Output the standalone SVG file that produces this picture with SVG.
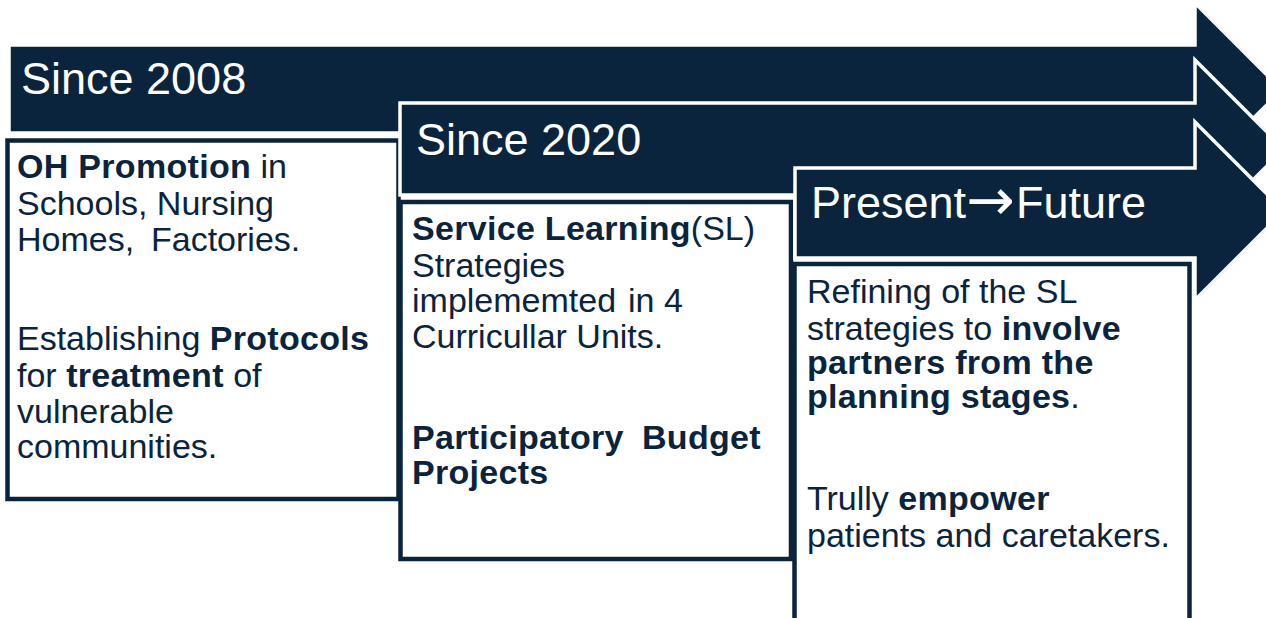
<svg xmlns="http://www.w3.org/2000/svg" width="1266" height="618" viewBox="0 0 1266 618">
<style>
.arrow{fill:#0a243d;stroke:#ffffff;stroke-width:3.5;stroke-linejoin:miter}
.box{fill:#ffffff;stroke:#0a243d;stroke-width:4.5}
.hdr{font-family:"Liberation Sans",Arial,sans-serif;font-size:45px;fill:#ffffff}
.sym{font-family:"DejaVu Sans",sans-serif;font-size:58px}
.body{font-family:"Liberation Sans",Arial,sans-serif;font-size:34px;fill:#0a243d}
.b{font-weight:bold;letter-spacing:0.3px}
</style>
<rect width="1266" height="618" fill="#ffffff"/>
<g id="stage-2008">
<polygon class="arrow" points="9,45 1195,45 1195,3 1282,90 1195,176 1195,133 9,133"/>
<text class="hdr" x="21" y="94">Since 2008</text>
</g>
<g id="box-2008">
<rect class="box" x="7.5" y="140.5" width="391" height="358.5"/>
<text class="body" x="17" y="178"><tspan class="b">OH Promotion</tspan> in</text>
<text class="body" x="17" y="215">Schools, Nursing</text>
<text class="body" x="17" y="251">Homes, <tspan x="151">Factories.</tspan></text>
<text class="body" x="17" y="350">Establishing <tspan class="b">Protocols</tspan></text>
<text class="body" x="17" y="387">for <tspan class="b">treatment</tspan> of</text>
<text class="body" x="17" y="423">vulnerable</text>
<text class="body" x="17" y="458">communities.</text>
</g>
<g id="stage-2020">
<polygon class="arrow" points="400,103 1195,103 1195,60 1284,149 1195,238 1195,195 400,195"/>
<text class="hdr" x="416" y="155">Since 2020</text>
</g>
<g id="box-2020">
<rect class="box" x="400.5" y="202" width="390.5" height="357"/>
<text class="body" x="412" y="240"><tspan class="b">Service Learning</tspan>(SL)</text>
<text class="body" x="412" y="277">Strategies</text>
<text class="body" x="412" y="312">implememted <tspan x="628">in 4</tspan></text>
<text class="body" x="412" y="348">Curricullar Units.</text>
<text class="body b" x="412" y="449">Participatory <tspan x="642">Budget</tspan></text>
<text class="body b" x="412" y="484">Projects</text>
</g>
<g id="stage-future">
<polygon class="arrow" points="795,168 1195,168 1195,122 1284,211 1195,300 1195,258 795,258"/>
<text class="hdr" x="811" y="218">Present<tspan class="sym" x="966" y="220">→</tspan><tspan x="1016" y="218">Future</tspan></text>
</g>
<g id="box-future">
<rect class="box" x="794.5" y="264" width="395" height="364"/>
<text class="body" x="807" y="303">Refining of the SL</text>
<text class="body" x="807" y="340">strategies to <tspan class="b">involve</tspan></text>
<text class="body b" x="807" y="374">partners from the</text>
<text class="body" x="807" y="408"><tspan class="b">planning stages</tspan>.</text>
<text class="body" x="807" y="510">Trully <tspan class="b">empower</tspan></text>
<text class="body" x="807" y="547">patients and caretakers.</text>
</g>
<g id="connectors"></g>
</svg>
